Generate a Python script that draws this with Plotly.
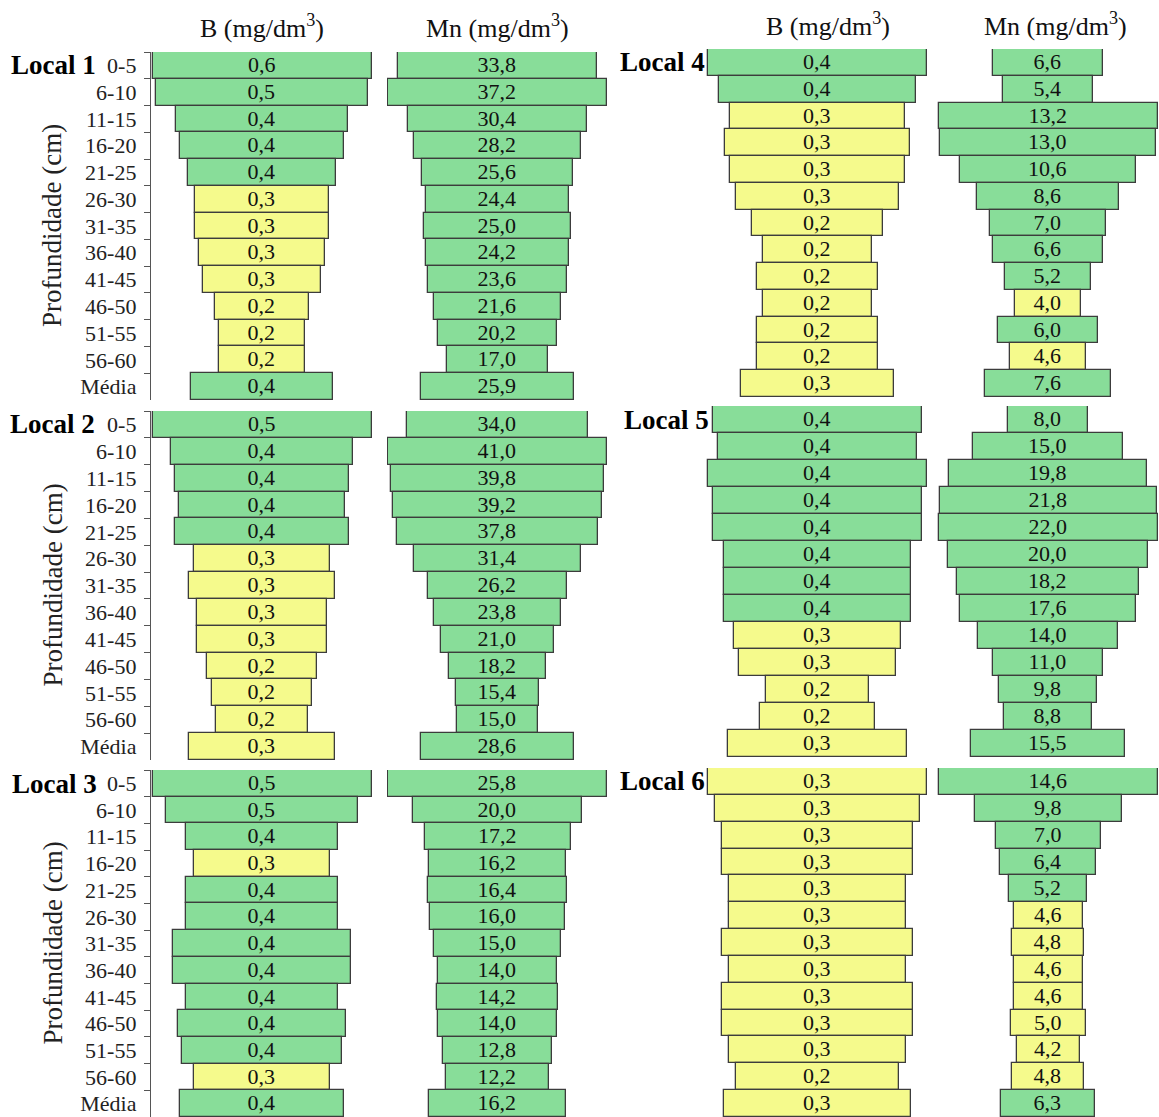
import plotly.graph_objects as go

# Soil depth classes (cm) plus the profile mean
depths = ["0-5", "6-10", "11-15", "16-20", "21-25", "26-30", "31-35",
          "36-40", "41-45", "46-50", "51-55", "56-60", "Média"]

# Boron (mg/dm3) per site
b_local1 = [0.560, 0.542, 0.438, 0.420, 0.379, 0.341, 0.341, 0.321, 0.300, 0.239, 0.219, 0.219, 0.361]
b_local2 = [0.480, 0.401, 0.381, 0.362, 0.381, 0.300, 0.320, 0.283, 0.283, 0.241, 0.221, 0.202, 0.322]
b_local3 = [0.530, 0.467, 0.366, 0.328, 0.366, 0.366, 0.429, 0.429, 0.366, 0.405, 0.385, 0.328, 0.395]
b_local4 = [0.400, 0.360, 0.319, 0.337, 0.319, 0.299, 0.239, 0.199, 0.221, 0.199, 0.221, 0.221, 0.279]
b_local5 = [0.401, 0.382, 0.420, 0.401, 0.401, 0.359, 0.359, 0.359, 0.321, 0.302, 0.199, 0.220, 0.344]
b_local6 = [0.320, 0.300, 0.279, 0.279, 0.259, 0.259, 0.279, 0.259, 0.279, 0.279, 0.259, 0.239, 0.274]

# Manganese (mg/dm3) per site
mn_local1 = [33.8, 37.2, 30.4, 28.2, 25.6, 24.4, 25.0, 24.2, 23.6, 21.6, 20.2, 17.0, 25.9]
mn_local2 = [34.0, 41.0, 39.8, 39.2, 37.8, 31.4, 26.2, 23.8, 21.0, 18.2, 15.4, 15.0, 28.6]
mn_local3 = [25.8, 20.0, 17.2, 16.2, 16.4, 16.0, 15.0, 14.0, 14.2, 14.0, 12.8, 12.2, 16.2]
mn_local4 = [6.6, 5.4, 13.2, 13.0, 10.6, 8.6, 7.0, 6.6, 5.2, 4.0, 6.0, 4.6, 7.6]
mn_local5 = [8.0, 15.0, 19.8, 21.8, 22.0, 20.0, 18.2, 17.6, 14.0, 11.0, 9.8, 8.8, 15.5]
mn_local6 = [14.6, 9.8, 7.0, 6.4, 5.2, 4.6, 4.8, 4.6, 4.6, 5.0, 4.2, 4.8, 6.3]

site_names = ["Local 1", "Local 2", "Local 3", "Local 4", "Local 5", "Local 6"]
b_sites = [b_local1, b_local2, b_local3, b_local4, b_local5, b_local6]
mn_sites = [mn_local1, mn_local2, mn_local3, mn_local4, mn_local5, mn_local6]

# Interpretation class limits (above -> high class)
B_LIMIT = 0.35
MN_LIMIT = 5.0

GREEN = "#88dd99"
YELLOW = "#f5fa8c"
EDGE = "#3c3c3c"
FONT = "Liberation Serif, Times New Roman, serif"

W, H = 1159, 1117

# pixel layout of the panels
col_px = {  # (left, right) of each column, left and right halves
    ("L", "B"): (151, 373), ("L", "Mn"): (387, 608),
    ("R", "B"): (706, 929), ("R", "Mn"): (937, 1159),
}
row_px = [(52, 400), (411, 760), (770, 1117), (49, 397), (406, 757), (768, 1117)]


def xd(a, b):
    return [a / W, b / W]


def yd(top, bottom):
    return [max(0.0, 1 - bottom / H), min(1.0, 1 - top / H)]


def fmt(v):
    return f"{v:.1f}".replace(".", ",")


fig = go.Figure()
layout_axes = {}
n = 0
for i in range(6):
    side = "L" if i < 3 else "R"
    top, bottom = row_px[i]
    for elem, vals, limit in (("B", b_sites[i], B_LIMIT), ("Mn", mn_sites[i], MN_LIMIT)):
        n += 1
        xa = "x" if n == 1 else f"x{n}"
        ya = "y" if n == 1 else f"y{n}"
        colors = [GREEN if (v >= limit if elem == "B" else v > limit) else YELLOW for v in vals]
        fig.add_trace(go.Bar(
            y=depths, x=vals, base=[-v / 2 for v in vals], orientation="h",
            width=1.0,
            marker=dict(color=colors, line=dict(color=EDGE, width=1.3)),
            text=[fmt(v) for v in vals], textposition="inside",
            insidetextanchor="middle", textangle=0, constraintext="none",
            textfont=dict(family=FONT, size=22, color="#111111"),
            hoverinfo="skip", xaxis=xa, yaxis=ya, showlegend=False,
        ))
        px0, px1 = col_px[(side, elem)]
        m = max(vals)
        half = m / 2 * (px1 - px0) / 219.0
        key_x = "xaxis" if n == 1 else f"xaxis{n}"
        key_y = "yaxis" if n == 1 else f"yaxis{n}"
        layout_axes[key_x] = dict(domain=xd(px0, px1), range=[-half, half],
                                  visible=False, anchor=ya, fixedrange=True)
        show_axis = side == "L" and elem == "B"
        layout_axes[key_y] = dict(
            domain=yd(top, bottom), anchor=xa, type="category",
            categoryorder="array", categoryarray=depths,
            range=[len(depths) - 0.5, -0.5],
            showgrid=False, zeroline=False,
            showline=show_axis, linecolor="#555555", linewidth=1.3,
            ticks="outside" if show_axis else "", tickson="boundaries",
            ticklen=6, tickcolor="#555555", tickwidth=1.3,
            showticklabels=show_axis, ticklabelstandoff=9,
            tickfont=dict(family=FONT, size=22, color="#222222"),
        )

annotations = []

# column headers
for xc, yc, label in ((262, 27, "B (mg/dm<sup>3</sup>)"), (497, 27, "Mn (mg/dm<sup>3</sup>)"),
                      (828, 24, "B (mg/dm<sup>3</sup>)"), (1055, 25, "Mn (mg/dm<sup>3</sup>)")):
    annotations.append(dict(x=xc / W, y=1 - yc / H, xref="paper", yref="paper",
                            text=label, showarrow=False, xanchor="center", yanchor="middle",
                            font=dict(family=FONT, size=26, color="#111111")))

# site labels next to the first depth row
site_label_px = [(98, 65), (97, 424), (99, 784), (707, 62), (711, 420), (707, 781)]
for name, (xr, yc) in zip(site_names, site_label_px):
    annotations.append(dict(x=xr / W, y=1 - yc / H, xref="paper", yref="paper",
                            text=f"<b>{name}</b>", showarrow=False, xanchor="right",
                            yanchor="middle",
                            font=dict(family=FONT, size=27, color="#000000")))

# depth axis titles for the left-hand panels
for top, bottom in row_px[:3]:
    annotations.append(dict(x=52 / W, y=1 - (top + bottom) / 2 / H, xref="paper", yref="paper",
                            text="Profundidade (cm)", showarrow=False, textangle=-90,
                            xanchor="center", yanchor="middle",
                            font=dict(family=FONT, size=27, color="#222222")))

fig.update_layout(
    width=W, height=H, margin=dict(l=0, r=0, t=0, b=0),
    paper_bgcolor="white", plot_bgcolor="rgba(0,0,0,0)",
    barmode="overlay", bargap=0, showlegend=False,
    annotations=annotations, font=dict(family=FONT),
    **layout_axes,
)

fig.write_html("out.html")
